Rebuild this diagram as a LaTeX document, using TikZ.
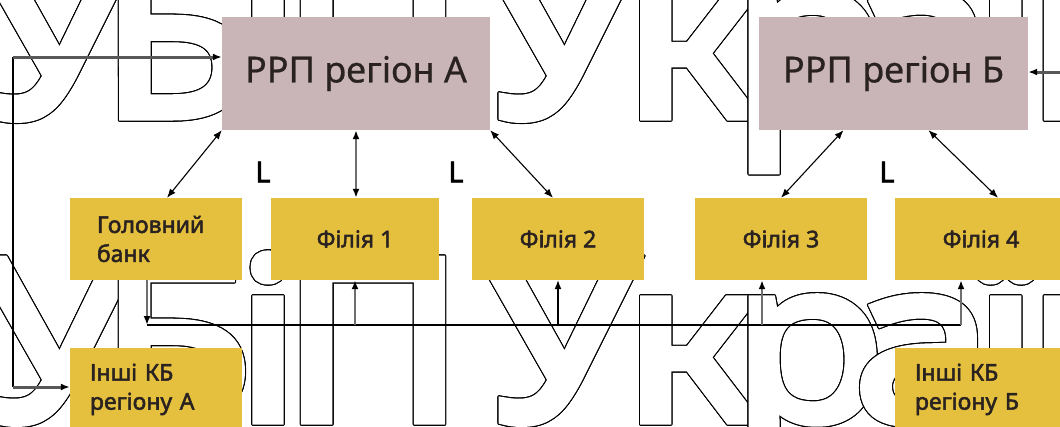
\documentclass[tikz,border=0pt]{standalone}
\usepackage{fontspec}
\setmainfont{Noto Sans}[FakeBold=0.6]
\newfontfamily\bankfont{Noto Sans}[FakeBold=2.2]
\newfontfamily\wmfont{Noto Sans}[FakeBold=4, FakeStretch=1.12]
\usetikzlibrary{arrows.meta, positioning}

\definecolor{rrpfill}{HTML}{C9B5B7}
\definecolor{bankfill}{HTML}{E4C03E}
\definecolor{inktext}{HTML}{2A2220}
\definecolor{shaft}{HTML}{6E6E6E}

\begin{document}
\begin{tikzpicture}[
  x=1pt, y=-1pt,
  >={Latex[length=9pt, width=7pt]},
  rrp/.style   = {fill=rrpfill, minimum width=268pt, minimum height=113pt,
                  text=inktext, font=\fontsize{36}{40}\selectfont},
  bank/.style  = {fill=bankfill, minimum width=172pt, minimum height=82pt,
                  text=inktext, font=\bankfont\fontsize{23}{29}\selectfont},
  note/.style  = {bank, align=left, text width=132pt, inner xsep=20pt},
  lbl/.style   = {inner sep=0pt, font=\bankfont\fontsize{29}{29}\selectfont},
  wm/.style    = {anchor=base, inner sep=0pt,
                  font=\wmfont\fontsize{224}{224}\selectfont},
  link/.style  = {<->, line width=1.1pt},
  trunk/.style = {{Latex[length=9pt, width=7pt, color=black]}-{Latex[length=9pt, width=7pt, color=black]},
                  draw=shaft, line width=2.4pt},
  feed/.style  = {-{Latex[length=9pt, width=7pt, color=black]}, draw=shaft, line width=2.4pt},
  heavy/.style = {-{Latex[length=9pt, width=7pt, color=black]}, draw=shaft!80!black, line width=3pt},
]
  \useasboundingbox (0,0) rectangle (1060,426);

  % outlined lettering in the background, two rows
  \foreach \base in {116,420}
    \foreach \cx/\ch in {55/У,176/Б,268/і,373/П,560/У,690/к,808/р,923/а,1006/ї,1104/н} {
      \foreach \a in {0,22.5,...,337.5}
        \node[wm, text=black] at ([shift={(\a:1.1pt)}]\cx,\base) {\ch};
      \node[wm, text=white] at (\cx,\base) {\ch};
    }

  \node[rrp]                     (rrpA)  at (356,73.5)  {РРП регіон А};
  \node[rrp, minimum width=269pt] (rrpB) at (893.5,73.5) {РРП регіон Б};

  \node[bank, align=left, text width=118pt, inner xsep=27pt]
                                 (golov) at (156,239)   {Головний\\банк};
  \node[bank, minimum width=168pt] (fil1) at (355,239)  {Філія 1};
  \node[bank]                    (fil2)  at (558,239)   {Філія 2};
  \node[bank]                    (fil3)  at (781,239)   {Філія 3};
  \node[bank]                    (fil4)  at (981,239)   {Філія 4};

  \node[note, below=68pt of golov] (inshiA) {Інші КБ\\регіону А};
  \node[note, below=68pt of fil4]  (inshiB) {Інші КБ\\регіону Б};

  \node[lbl] (lA1) at (263,172) {L};
  \node[lbl] (lA2) at (456,172) {L};
  \node[lbl] (lB)  at (887,172) {L};

  % links between the regional centres and the banks
  \draw[link]  (rrpA.south west) -- ([xshift=11pt]golov.north);
  \draw[trunk] (rrpA.south) -- (rrpA.south |- fil1.north);
  \draw[link]  (rrpA.south east) -- ([xshift=-5pt]fil2.north);
  \draw[link]  ([xshift=-50pt]rrpB.south) -- (fil3.north);
  \draw[link]  ([xshift=35pt]rrpB.south) -- ([xshift=17pt]fil4.north);

  % common line under the branches
  \coordinate (busL) at (147,325);
  \coordinate (busR) at (961,325);
  \draw[line width=1.1pt] (busL) -- (busR);
  \draw[feed] (busL |- golov.south) -- (busL);
  \draw[feed] (fil1.south |- busL) -- (fil1.south);
  \draw[line width=1.1pt, ->] (fil2.south |- busL) -- (fil2.south);
  \draw[feed] ([xshift=-19pt]fil3.south |- busL) -- ([xshift=-19pt]fil3.south);
  \draw[feed] (busR) -- (busR |- fil4.south);

  % outer loop on the left, inlet on the right
  \coordinate (loopT) at (13,57);
  \coordinate (loopB) at (13,387);
  \draw[line width=1.1pt] (loopT) -- (loopB);
  \draw[heavy] (loopT) -- (loopT -| rrpA.west);
  \draw[heavy] (loopB) -- (loopB -| inshiA.west);
  \coordinate (inB) at (1060,72);
  \draw[heavy] (inB) -- (inB -| rrpB.east);
\end{tikzpicture}
\end{document}
